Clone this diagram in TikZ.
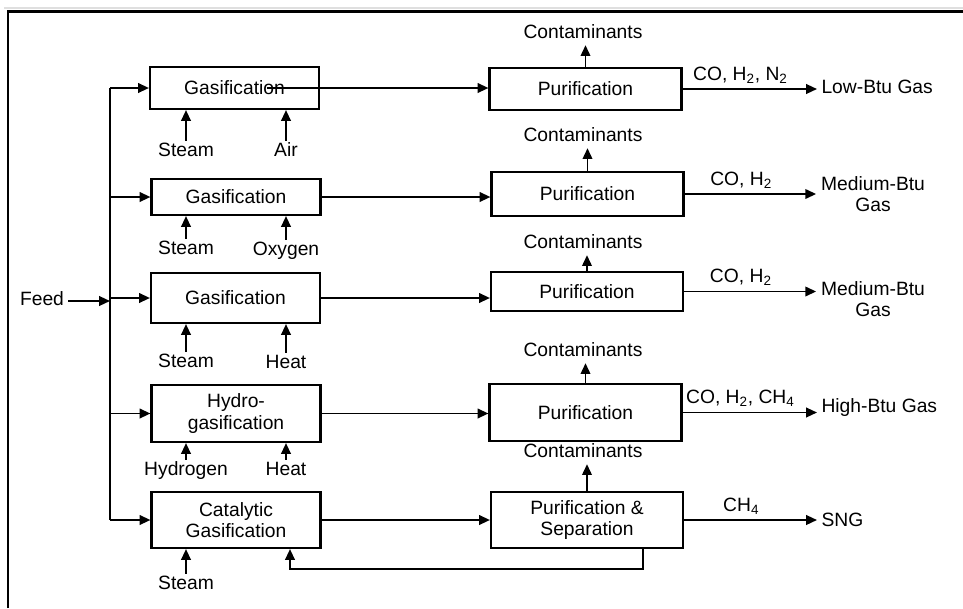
\documentclass[tikz,border=0pt]{standalone}
\usepackage{fontspec}
\setmainfont{Liberation Sans}
\usetikzlibrary{calc}
\usetikzlibrary{arrows.meta}

\begin{document}
\begin{tikzpicture}[x=0.025cm, y=-0.025cm, font=\fontsize{13.7}{15}\selectfont,
  >={Triangle[length=0.27cm, width=0.24cm]},
  unit/.style={draw, line width=1.5pt, minimum width=4.225cm, align=center, inner sep=1pt},
  purunit/.style={unit, minimum width=4.8cm},
  lbl/.style={text height=1.5ex, text depth=0.3ex, inner sep=3pt},
  flow/.style={line width=1.3pt, ->}]
\useasboundingbox (0,0) rectangle (963,608);
\draw[gray!25, line width=1pt] (4,8) -- (963,8);
\draw[line width=1.5pt] (8,608) -- (8,11.5) -- (963,11.5);

\node[unit, minimum height=1.05cm] (gas1) at (234.5,88) {Gasification};
\node[unit, minimum height=0.9cm] (gas2) at (236,197) {Gasification};
\node[unit, minimum height=1.25cm] (gas3) at (235.5,298) {Gasification};
\node[unit, minimum height=1.425cm] (gas4) at (236,413.5) {Hydro-\\gasification};
\node[unit, minimum height=1.4cm] (gas5) at (236,520) {Catalytic\\Gasification};

\node[purunit, minimum height=1.05cm] (pur1) at (585.5,89) {Purification};
\node[purunit, minimum height=1.1cm] (pur2) at (587.5,194) {Purification};
\node[purunit, minimum height=0.975cm] (pur3) at (587,291.5) {Purification};
\node[purunit, minimum height=1.425cm] (pur4) at (585.5,412.5) {Purification};
\node[purunit, minimum height=1.4cm] (pur5) at (587,520) {Purification \&\\Separation};

\node[lbl] (feed) at (42,301) {Feed};
\coordinate (busT) at (110,88);
\coordinate (busB) at (110,520);
\draw[line width=1.3pt] (busT) -- (busB);
\draw[flow] (feed.east) -- (feed.east -| busT);
\foreach \g in {1,...,5}
 \draw[flow] (gas\g.west -| busT) -- (gas\g.west);

\draw[flow] ($(gas1.center)+(32,0)$) -- (gas1.center -| pur1.west);
\foreach \g in {2,...,5}
 \draw[flow] (gas\g.east) -- (gas\g.east -| pur\g.west);

\foreach \name/\txt/\x/\y/\g in {st1/Steam/186/152/gas1, air/Air/286/152/gas1,
  st2/Steam/186/250/gas2, oxy/Oxygen/286/251/gas2,
  st3/Steam/186/363/gas3, heat3/Heat/286/364/gas3,
  hyd/Hydrogen/186/471/gas4, heat4/Heat/286/471/gas4,
  st5/Steam/186/585/gas5} {
 \node[lbl] (\name) at (\x,\y) {\txt};
 \draw[flow] (\name.north) -- (\name.north |- \g.south);
}

\foreach \p/\y in {1/34, 2/137, 3/244, 4/352, 5/453} {
 \node[lbl] (con\p) at (583,\y) {Contaminants};
 \draw[flow] (pur\p.north) -- (pur\p.north |- con\p.south);
}

\node[lbl, anchor=west] (low) at (817,89) {Low-Btu Gas};
\node[align=center] (med1) at (873,194) {Medium-Btu\\Gas};
\node[align=center] (med2) at (873,299) {Medium-Btu\\Gas};
\node[lbl, anchor=west] (high) at (817,408) {High-Btu Gas};
\node[lbl, anchor=west] (sng) at (817,522) {SNG};

\draw[flow] (pur1.east) -- node[above, pos=0.43]{CO, H\textsubscript{2}, N\textsubscript{2}} (pur1.east -| low.west);
\draw[flow] (pur2.east) -- node[above, pos=0.43]{CO, H\textsubscript{2}} (pur2.east -| med1.west);
\draw[flow] (pur3.east) -- node[above, pos=0.43]{CO, H\textsubscript{2}} (pur3.east -| med2.west);
\draw[flow] (pur4.east) -- node[above, pos=0.43]{CO, H\textsubscript{2}, CH\textsubscript{4}} (pur4.east -| high.west);
\draw[flow] (pur5.east) -- node[above, pos=0.43]{CH\textsubscript{4}} (pur5.east -| sng.west);

\coordinate (ret) at (643,569);
\draw[flow] (ret |- pur5.south) -- (ret) -| ($(gas5.south)+(54,0)$);
\end{tikzpicture}
\end{document}
